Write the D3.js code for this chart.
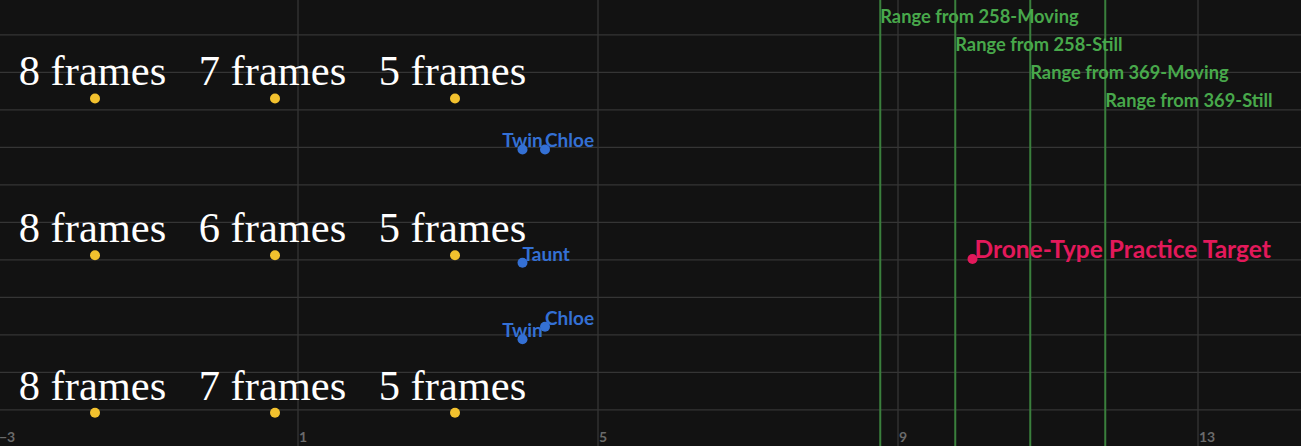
<!DOCTYPE html>
<html>
<head>
<meta charset="utf-8">
<script src="https://cdn.jsdelivr.net/npm/d3@7"></script>
<style>
  html, body { margin: 0; padding: 0; background: #121212; overflow: hidden; }
  svg { display: block; }
</style>
</head>
<body>
<div id="graph"></div>
<script>
// Frame-count points (yellow), one label per point
var frameX = [-1.7, 0.7, 3.1];
var frameRowY = [8.29, 4.11, -0.09];
var frameLabels = [
	["8 frames", "7 frames", "5 frames"],
	["8 frames", "6 frames", "5 frames"],
	["8 frames", "7 frames", "5 frames"]
];

// Unit points (blue)
var unitNames = ["Twin", "Chloe", "Taunt", "Twin", "Chloe"];
var unitX = [4.0, 4.3, 4.0, 4.0, 4.3];
var unitY = [6.93, 6.93, 3.91, 1.87, 2.2];

// Range lines (green)
var rangeNames = ["Range from 258-Moving", "Range from 258-Still",
	"Range from 369-Moving", "Range from 369-Still"];
var rangeX = [8.77, 9.77, 10.77, 11.77];
var rangeLabelY = [10.31, 9.56, 8.81, 8.07];

// Target point (pink)
var targetNames = ["Drone-Type Practice Target"];
var targetX = [10.0];
var targetY = [4.01];

// Grid / ticks
var xTicks = [-3, 1, 5, 9, 13];
var yTicks = d3.range(0, 11);

// graph - draw the whole Desmos-style plot into div_id
function graph(div_id) {
	var width = 1301, height = 446;

	var x = d3.scaleLinear().domain([-3, 13]).range([-2.5, 1197.5]);
	var y = d3.scaleLinear().domain([0, 10]).range([409.3, 34.3]);

	var svg = d3.select('#' + div_id).append("svg")
		.attr("width", width)
		.attr("height", height);

	svg.append("rect")
		.attr("width", width)
		.attr("height", height)
		.attr("fill", "#121212");

	// Horizontal grid
	svg.append("g")
		.attr("class", "grid-y")
		.call(d3.axisLeft(y).tickValues(yTicks).tickSize(-width).tickFormat(""))
		.call(function(g) { g.select(".domain").remove(); })
		.selectAll("line")
		  .attr("stroke", "#353535")
		  .attr("stroke-width", 1.3);

	// Vertical grid + bottom tick numbers
	var gx = svg.append("g")
		.attr("class", "grid-x")
		.attr("transform", "translate(0," + height + ")")
		.call(d3.axisTop(x).tickValues(xTicks).tickSize(height).tickFormat(d3.format("d")));
	gx.select(".domain").remove();
	gx.selectAll("line")
		.attr("stroke", "#353535")
		.attr("stroke-width", 1.3);
	// numbers sit along the bottom edge, just right of each grid line
	gx.selectAll("text")
		.attr("text-anchor", "start")
		.attr("x", 1)
		.attr("y", -4)
		.attr("dy", null)
		.attr("fill", "#6a6a6a")
		.attr("font-family", "Lato, sans-serif")
		.attr("font-weight", 700)
		.attr("font-size", 14);

	// Green range lines and their labels
	svg.selectAll(".range-line")
		.data(rangeX)
		.enter().append("line")
		  .attr("class", "range-line")
		  .attr("x1", function(d) { return x(d); })
		  .attr("x2", function(d) { return x(d); })
		  .attr("y1", 0)
		  .attr("y2", height)
		  .attr("stroke", "#3a7f3c")
		  .attr("stroke-width", 2);

	svg.selectAll(".range-label")
		.data(rangeNames)
		.enter().append("text")
		  .attr("class", "range-label")
		  .attr("x", function(d, i) { return x(rangeX[i]); })
		  .attr("y", function(d, i) { return y(rangeLabelY[i]); })
		  .attr("fill", "#48a84b")
		  .attr("font-family", "Lato, sans-serif")
		  .attr("font-weight", 700)
		  .attr("font-size", 18.3)
		  .text(function(d) { return d; });

	// Yellow frame points with serif labels
	var frames = [];
	frameRowY.forEach(function(ry, r) {
		frameX.forEach(function(fx, c) {
			frames.push({x: fx, y: ry, label: frameLabels[r][c]});
		});
	});

	svg.selectAll(".frame-dot")
		.data(frames)
		.enter().append("circle")
		  .attr("class", "frame-dot")
		  .attr("cx", function(d) { return x(d.x); })
		  .attr("cy", function(d) { return y(d.y); })
		  .attr("r", 5)
		  .attr("fill", "#f2c12e");

	svg.selectAll(".frame-label")
		.data(frames)
		.enter().append("text")
		  .attr("class", "frame-label")
		  .attr("x", function(d) { return x(d.x) - 2.5; })
		  .attr("y", function(d) { return y(d.y) - 13; })
		  .attr("text-anchor", "middle")
		  .attr("fill", "#ffffff")
		  .attr("font-family", "'Liberation Serif', serif")
		  .attr("font-size", 42.5)
		  .text(function(d) { return d.label; });

	// Blue unit points
	var units = unitNames.map(function(n, i) {
		return {name: n, x: unitX[i], y: unitY[i]};
	});
	var centred = {"Twin": true};

	svg.selectAll(".unit-dot")
		.data(units)
		.enter().append("circle")
		  .attr("class", "unit-dot")
		  .attr("cx", function(d) { return x(d.x); })
		  .attr("cy", function(d) { return y(d.y); })
		  .attr("r", 5)
		  .attr("fill", "#3470d4");

	svg.selectAll(".unit-label")
		.data(units)
		.enter().append("text")
		  .attr("class", "unit-label")
		  .attr("x", function(d) { return x(d.x); })
		  .attr("y", function(d) { return y(d.y) - 2; })
		  .attr("text-anchor", function(d) { return centred[d.name] ? "middle" : "start"; })
		  .attr("fill", "#3470d4")
		  .attr("font-family", "Lato, sans-serif")
		  .attr("font-weight", 700)
		  .attr("font-size", 19)
		  .text(function(d) { return d.name; });

	// Pink target
	var targets = targetNames.map(function(n, i) {
		return {name: n, x: targetX[i], y: targetY[i]};
	});

	svg.selectAll(".target-dot")
		.data(targets)
		.enter().append("circle")
		  .attr("class", "target-dot")
		  .attr("cx", function(d) { return x(d.x); })
		  .attr("cy", function(d) { return y(d.y); })
		  .attr("r", 5)
		  .attr("fill", "#e3195b");

	svg.selectAll(".target-label")
		.data(targets)
		.enter().append("text")
		  .attr("class", "target-label")
		  .attr("x", function(d) { return x(d.x) + 2; })
		  .attr("y", function(d) { return y(d.y) - 1; })
		  .attr("fill", "#e3195b")
		  .attr("font-family", "Lato, sans-serif")
		  .attr("font-weight", 700)
		  .attr("font-size", 24.5)
		  .text(function(d) { return d.name; });
} // graph

graph("graph");
</script>
</body>
</html>
